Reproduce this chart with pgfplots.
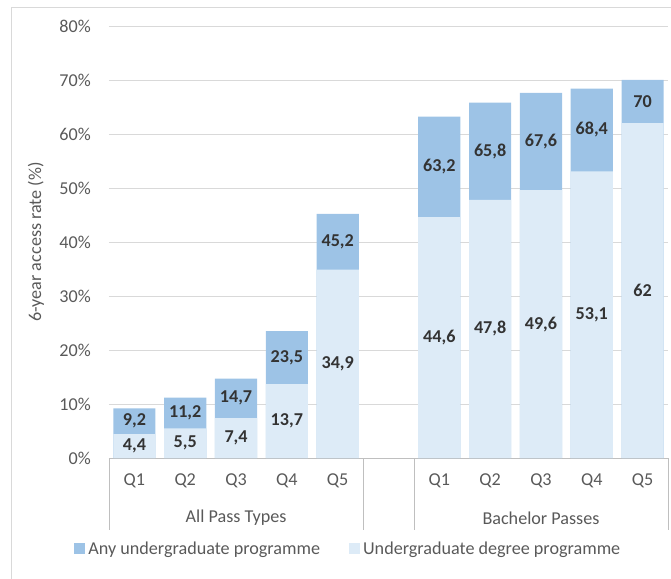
\documentclass[border=0pt]{standalone}
\usepackage{pgfplots}
\pgfplotsset{compat=1.18}
\usepackage{pgfplotstable}
\usepackage{fontspec}
\setmainfont{Carlito}
\definecolor{anyc}{HTML}{9DC3E6}
\definecolor{degc}{HTML}{DDEBF7}
\definecolor{gridc}{HTML}{D9D9D9}
\definecolor{axc}{HTML}{BFBFBF}
\definecolor{txt}{HTML}{595959}
\definecolor{lab}{HTML}{333333}

\pgfplotstableread{
x any deg
0 9.2 4.4
1 11.2 5.5
2 14.7 7.4
3 23.5 13.7
4 45.2 34.9
6 63.2 44.6
7 65.8 47.8
8 67.6 49.6
9 68.4 53.1
10 70 62
}\data

\begin{document}
\begin{tikzpicture}[font=\fontsize{18.2}{22}\selectfont]
\useasboundingbox (-109bp,-121bp) rectangle (562bp,458bp);
\draw[gridc, line width=0.8bp] (-97.5bp,-200bp) -- (-97.5bp,451bp) -- (700bp,451bp);
\begin{axis}[
  at={(0,0)}, anchor=south west, scale only axis,
  width=559bp, height=432bp,
  xmin=-0.5, xmax=10.5, ymin=0, ymax=80,
  clip=false,
  ytick={0,10,...,80},
  yticklabel={\pgfmathprintnumber[assume math mode=true]{\tick}\%},
  xtick={0,1,2,3,4,6,7,8,9,10},
  xticklabels={Q1,Q2,Q3,Q4,Q5,Q1,Q2,Q3,Q4,Q5},
  xticklabel style={anchor=center, yshift=-23bp, text=txt},
  yticklabel style={anchor=east, inner sep=0pt, xshift=-18bp, text=txt},
  major tick length=0pt,
  axis x line*=bottom, axis y line*=left,
  y axis line style={draw=none},
  x axis line style={draw=axc, line width=0.8bp, -},
  ymajorgrids, grid style={gridc, line width=0.8bp},
  ylabel={6-year access rate (\%)},
  ylabel style={at={(axis description cs:-0.1306,0.5)}, anchor=center, text=txt},
  legend columns=2,
  legend style={draw=none, fill=none, text=txt,
    at={(axis description cs:0.429,-0.2106)}, anchor=center,
    /tikz/every even column/.append style={column sep=26bp},
    nodes={inner xsep=3bp}},
  legend cell align=left,
  nodes near coords style={font=\fontsize{18.2}{22}\selectfont\bfseries, text=lab, anchor=center},
  /pgf/number format/.cd, use comma, fixed, precision=1, assume math mode=true,
]
\addplot[ybar, bar width=0.83, bar shift=0pt, fill=anyc, draw=none,
  legend image code/.code={\fill[anyc] (0bp,-5.5bp) rectangle (11bp,5.5bp);}]
  table[x=x, y=any] {\data};
\addlegendentry{Any undergraduate programme}
\addplot[ybar, bar width=0.83, bar shift=0pt, fill=degc, draw=none,
  legend image code/.code={\fill[degc] (0bp,-5.5bp) rectangle (11bp,5.5bp);}]
  table[x=x, y=deg] {\data};
\addlegendentry{Undergraduate degree programme}
\addplot[draw=none, mark=none, forget plot, nodes near coords, point meta=\thisrow{any}]
  table[x=x, y expr=(\thisrow{any}+\thisrow{deg})/2] {\data};
\addplot[draw=none, mark=none, forget plot, nodes near coords, point meta=\thisrow{deg}]
  table[x=x, y expr=\thisrow{deg}/2] {\data};
\foreach \xx in {-0.5,4.5,5.5,10.5} {
  \edef\tmp{\noexpand\draw[axc, line width=0.8bp] (axis cs:\xx,0) -- ++(0pt,-72bp);}
  \tmp
}
\node[text=txt] at (axis cs:2,0) [yshift=-60bp] {All Pass Types};
\node[text=txt] at (axis cs:8,0) [yshift=-60bp] {Bachelor Passes};
\end{axis}
\end{tikzpicture}
\end{document}
